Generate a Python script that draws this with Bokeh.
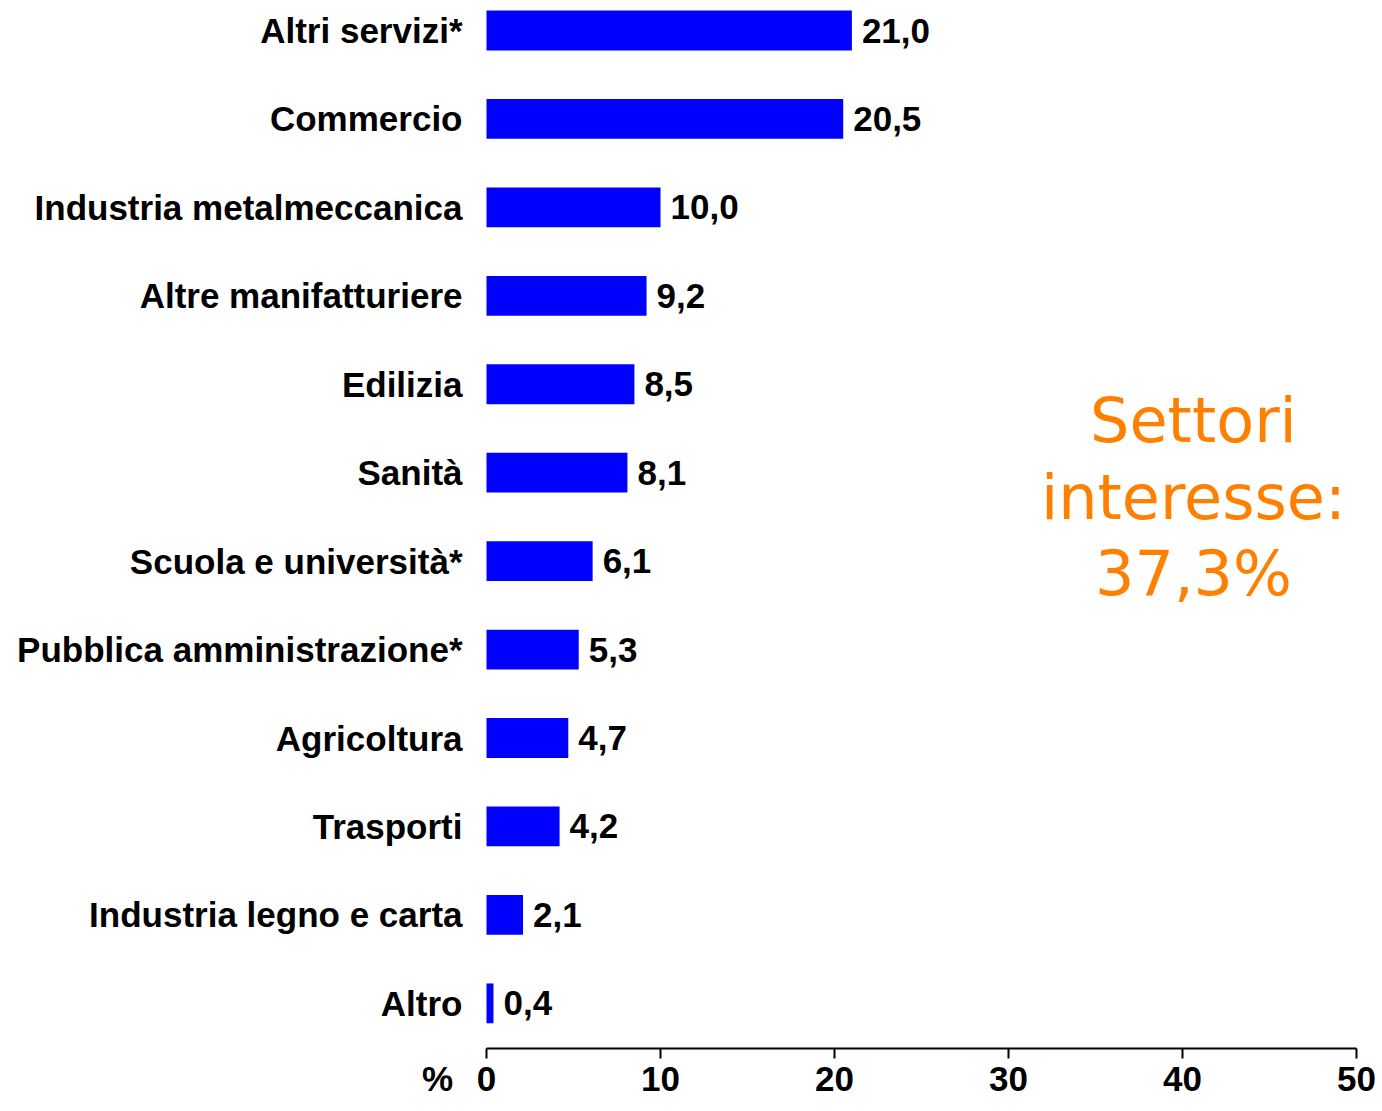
from bokeh.plotting import figure
from bokeh.models import Range1d, FixedTicker, ColumnDataSource
from bokeh.embed import file_html
from bokeh.resources import INLINE
from bokeh.core.properties import value

categories = ["Altri servizi*", "Commercio", "Industria metalmeccanica",
              "Altre manifatturiere", "Edilizia", "Sanità",
              "Scuola e università*", "Pubblica amministrazione*",
              "Agricoltura", "Trasporti", "Industria legno e carta", "Altro"]
values = [21.0, 20.5, 10.0, 9.2, 8.5, 8.1, 6.1, 5.3, 4.7, 4.2, 2.1, 0.4]
x_ticks = [0, 10, 20, 30, 40, 50]
note_lines = ["Settori", "interesse:", "37,3%"]
unit_label = "%"

idx = list(range(len(categories)))
labels = [f"{v:.1f}".replace(".", ",") for v in values]
src = ColumnDataSource(dict(y=idx, v=values, lab=labels, zero=[0] * len(idx),
                            cat=categories))

BOLD_FONT = "Liberation Sans"
FS = "35px"
W, H = 1378, 1103
X0_PX, PX_PER_X = 486, 17.4
Y0_PX, PX_PER_Y = 30, 88.44
AXIS_Y = (1048 - Y0_PX) / PX_PER_Y
UNIT_Y = (1078 - Y0_PX) / PX_PER_Y

p = figure(width=W, height=H, output_backend="svg", toolbar_location=None,
           x_range=Range1d(-X0_PX / PX_PER_X, (W - X0_PX) / PX_PER_X),
           y_range=Range1d((H - Y0_PX) / PX_PER_Y, -Y0_PX / PX_PER_Y),
           min_border=0)
p.outline_line_color = None
p.xgrid.visible = False
p.ygrid.visible = False
p.yaxis.visible = False
p.background_fill_color = "white"
p.border_fill_color = "white"

p.hbar(y="y", right="v", left=0, height=0.45, source=src,
       fill_color="#0000FF", line_color=None)
# value labels
p.text(x="v", y="y", text="lab", source=src, x_offset=10,
       text_font=value(BOLD_FONT), text_font_style="bold", text_font_size=FS,
       text_baseline="middle", text_align="left", text_color="black")
# category labels
p.text(x="zero", y="y", text="cat", source=src, x_offset=-24,
       text_font=value(BOLD_FONT), text_font_style="bold", text_font_size=FS,
       text_baseline="middle", text_align="right", text_color="black")

# x axis, placed inside the frame under the bars
p.xaxis.fixed_location = AXIS_Y
p.xaxis.bounds = (x_ticks[0], x_ticks[-1])
p.xaxis.ticker = FixedTicker(ticks=x_ticks)
p.xaxis.axis_line_width = 2
p.xaxis.axis_line_color = "black"
p.xaxis.major_tick_line_width = 2
p.xaxis.major_tick_out = 10
p.xaxis.major_tick_in = 0
p.xaxis.minor_tick_line_color = None
p.xaxis.major_label_standoff = 8
p.xaxis.major_label_text_font = BOLD_FONT
p.xaxis.major_label_text_font_style = "bold"
p.xaxis.major_label_text_font_size = FS
p.xaxis.major_label_text_color = "black"

p.text(x=[0], y=[UNIT_Y], text=[unit_label], x_offset=-49,
       text_font=value(BOLD_FONT), text_font_style="bold", text_font_size=FS,
       text_align="center", text_baseline="middle", text_color="black")

p.text(x=[40.63] * 3, y=[4.41, 5.28, 6.14], text=note_lines,
       text_font=value("DejaVu Sans"), text_font_size="62px",
       text_color="#FF8000", text_align="center", text_baseline="middle")

open("out.html", "w").write(file_html(p, INLINE))
